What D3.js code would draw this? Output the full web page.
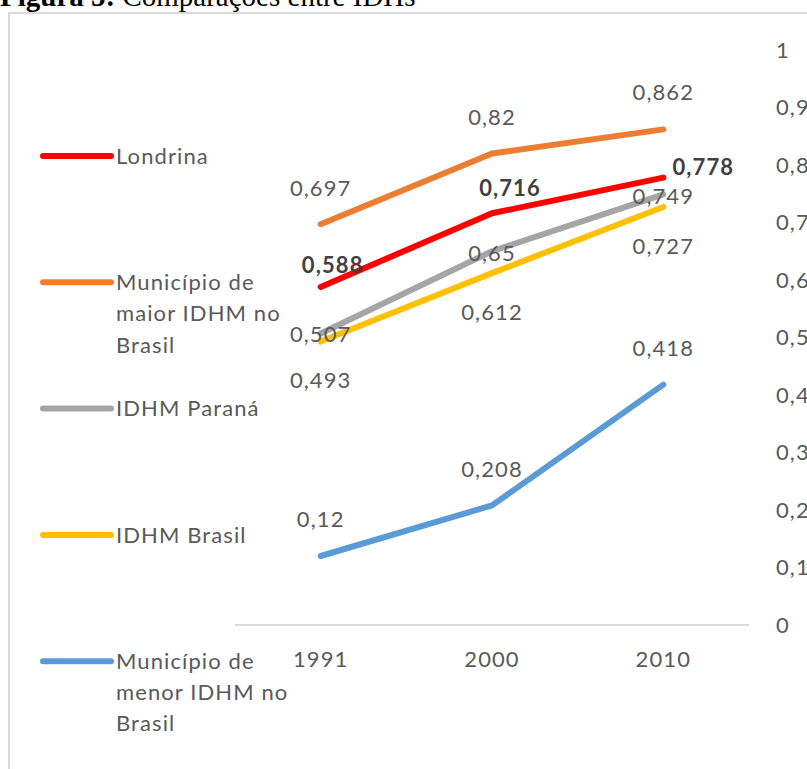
<!DOCTYPE html>
<html>
<head>
<meta charset="utf-8">
<script src="https://cdn.jsdelivr.net/npm/d3@7"></script>
<style>
  body { margin: 0; background: #fff; }
  svg { display: block; }
</style>
</head>
<body>
<svg id="chart" width="807" height="769"></svg>
<script>
const anos = ["1991", "2000", "2010"];
const series = ["Londrina", "Município de maior IDHM no Brasil", "IDHM Paraná", "IDHM Brasil", "Município de menor IDHM no Brasil"];
const londrina = [0.588, 0.716, 0.778];
const maior = [0.697, 0.82, 0.862];
const parana = [0.507, 0.65, 0.749];
const brasil = [0.493, 0.612, 0.727];
const menor = [0.12, 0.208, 0.418];
const yTicks = [0, 0.1, 0.2, 0.3, 0.4, 0.5, 0.6, 0.7, 0.8, 0.9, 1];

const cores = ["#ff0000", "#ed7d31", "#a5a5a5", "#ffc000", "#5b9bd5"];
const legendaLinhas = [["Londrina"], ["Município de", "maior IDHM no", "Brasil"], ["IDHM Paraná"], ["IDHM Brasil"], ["Município de", "menor IDHM no", "Brasil"]];
const valores = [londrina, maior, parana, brasil, menor];

const fmt = v => String(v).replace(".", ",");

const svg = d3.select("#chart");
const fonte = "Lato, 'Open Sans', sans-serif";
const esp = "1.1px";

// titulo cortado
svg.append("text")
    .attr("x", 0).attr("y", 6)
    .attr("font-family", "'Liberation Serif', serif")
    .attr("font-size", 29)
    .attr("fill", "#000")
    .html("<tspan font-weight='bold'>Figura 5:</tspan> Comparações entre IDHs");

// moldura
svg.append("path")
    .attr("d", "M9,769 V13 H807")
    .attr("fill", "none")
    .attr("stroke", "#d9d9d9")
    .attr("stroke-width", 2);

const x = d3.scaleBand().domain(anos).range([235, 749]);
const y = d3.scaleLinear().domain([0, 1]).range([625, 50]);
const cx = a => x(a) + x.bandwidth() / 2;

// eixo x
svg.append("line")
    .attr("x1", 235).attr("x2", 749)
    .attr("y1", y(0)).attr("y2", y(0))
    .attr("stroke", "#d9d9d9").attr("stroke-width", 2);

svg.selectAll(".ano")
    .data(anos)
    .enter().append("text")
    .attr("x", d => cx(d))
    .attr("y", 667)
    .attr("text-anchor", "middle")
    .attr("font-family", fonte).attr("font-size", 22)
    .attr("letter-spacing", esp)
    .attr("fill", "#595959")
    .text(d => d);

// eixo y a direita
const eixoY = svg.append("g")
    .attr("transform", "translate(768,0)")
    .call(d3.axisRight(y).tickValues(yTicks).tickSize(0).tickPadding(8).tickFormat(d => fmt(d)));
eixoY.select(".domain").remove();
eixoY.selectAll("text")
    .attr("font-family", fonte).attr("font-size", 22)
    .attr("letter-spacing", esp)
    .attr("fill", "#595959");

// linhas
const linha = d3.line()
    .x((d, i) => cx(anos[i]))
    .y(d => y(d));

svg.selectAll(".serie")
    .data(valores)
    .enter().append("path")
    .attr("d", d => linha(d))
    .attr("fill", "none")
    .attr("stroke", (d, i) => cores[i])
    .attr("stroke-width", 6)
    .attr("stroke-linecap", "round")
    .attr("stroke-linejoin", "round");

// rotulos: deslocamento de cada serie
const desloc = [
    [[12, -22], [18, -25], [40, -10]],
    [[0, -36], [0, -36], [0, -37]],
    [[0, 1], [0, 2], [0, 2]],
    [[0, 39], [0, 39], [0, 39]],
    [[0, -37], [0, -36], [0, -36]]
];
valores.forEach((vals, s) => {
    svg.selectAll(".rot" + s)
        .data(vals)
        .enter().append("text")
        .attr("x", (d, i) => cx(anos[i]) + desloc[s][i][0])
        .attr("y", (d, i) => y(d) + desloc[s][i][1])
        .attr("dy", "0.35em")
        .attr("text-anchor", "middle")
        .attr("font-family", fonte).attr("font-size", 22)
        .attr("letter-spacing", esp)
        .attr("font-weight", s === 0 ? "bold" : "normal")
        .attr("fill", s === 0 ? "#404040" : "#595959")
        .text(d => fmt(d));
});

// legenda
const leg = svg.selectAll(".leg")
    .data(series)
    .enter().append("g")
    .attr("transform", (d, i) => "translate(0," + (156 + i * 126.3) + ")");

leg.append("line")
    .attr("x1", 43).attr("x2", 111)
    .attr("stroke", (d, i) => cores[i])
    .attr("stroke-width", 6)
    .attr("stroke-linecap", "round");

leg.each(function(d, i) {
    const t = d3.select(this).append("text")
        .attr("x", 116)
        .attr("font-family", fonte).attr("font-size", 22)
        .attr("letter-spacing", esp)
        .attr("fill", "#595959");
    legendaLinhas[i].forEach((l, j) => {
        t.append("tspan").attr("x", 116).attr("y", j * 31.3).attr("dy", "0.35em").text(l);
    });
});
</script>
</body>
</html>
